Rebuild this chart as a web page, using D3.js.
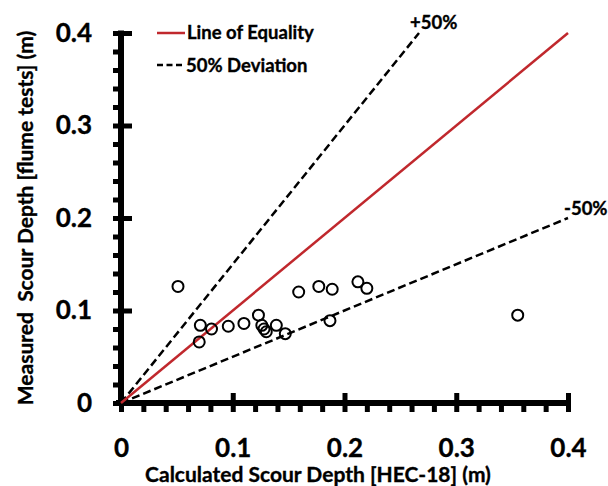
<!DOCTYPE html>
<html>
<head>
<meta charset="utf-8">
<script src="https://cdn.jsdelivr.net/npm/d3@7"></script>
<style>
  body { margin: 0; background: #fff; }
  text { font-family: Lato, "Open Sans", sans-serif; font-weight: bold; fill: #000; stroke: #000; stroke-width: 0.35px; }
</style>
</head>
<body>
<svg id="chart" width="608" height="486"></svg>
<script>
// calculated (HEC-18) vs measured (flume tests) scour depth, metres
var calcDepth = [0.051, 0.071, 0.081, 0.070, 0.096, 0.110, 0.123, 0.126, 0.128, 0.130,
                 0.139, 0.147, 0.159, 0.177, 0.189, 0.212, 0.220, 0.187, 0.355];
var measDepth = [0.126, 0.084, 0.080, 0.066, 0.083, 0.086, 0.095, 0.084, 0.080, 0.077,
                 0.084, 0.075, 0.120, 0.126, 0.123, 0.131, 0.124, 0.089, 0.095];

var majorTicks = [0, 0.1, 0.2, 0.3, 0.4];
var tickLabels = ["0", "0.1", "0.2", "0.3", "0.4"];
var minorTicks = [0.02, 0.04, 0.06, 0.08, 0.12, 0.14, 0.16, 0.18,
                  0.22, 0.24, 0.26, 0.28, 0.32, 0.34, 0.36, 0.38];

var equalityLine = [[0, 0], [0.4, 0.4]];
var plusLine = [[0, 0], [0.4 / 1.5, 0.4]];
var minusLine = [[0, 0], [0.4, 0.2]];

var svg = d3.select("#chart");

var x = d3.scaleLinear().domain([0, 0.4]).range([121, 568]);
var y = d3.scaleLinear().domain([0, 0.4]).range([403, 33]);

// minor ticks first (outside only)
svg.append("g")
  .attr("transform", "translate(0,403)")
  .call(d3.axisBottom(x).tickValues(minorTicks).tickSize(9).tickFormat(""))
  .call(g => g.select(".domain").remove())
  .selectAll("line").attr("stroke", "#000").attr("stroke-width", 5);

svg.append("g")
  .attr("transform", "translate(121,0)")
  .call(d3.axisLeft(y).tickValues(minorTicks).tickSize(8).tickFormat(""))
  .call(g => g.select(".domain").remove())
  .selectAll("line").attr("stroke", "#000").attr("stroke-width", 5);

// x axis
var xAxis = svg.append("g")
  .attr("transform", "translate(0,403)")
  .call(d3.axisBottom(x).tickValues(majorTicks).tickSize(9)
    .tickFormat((d, i) => tickLabels[i]).tickPadding(27));
xAxis.select(".domain").remove();
xAxis.selectAll(".tick line").attr("y1", -10).attr("y2", 9)
  .attr("stroke", "#000").attr("stroke-width", 5);
xAxis.selectAll(".tick text").attr("font-size", 26).style("font-family", null);
xAxis.append("line").attr("x1", 116).attr("x2", 570.5).attr("y1", 0).attr("y2", 0)
  .attr("stroke", "#000").attr("stroke-width", 6);

// y axis
var yAxis = svg.append("g")
  .attr("transform", "translate(121,0)")
  .call(d3.axisLeft(y).tickValues(majorTicks).tickSize(8)
    .tickFormat((d, i) => tickLabels[i]).tickPadding(21));
yAxis.select(".domain").remove();
yAxis.selectAll(".tick line").attr("x1", -8).attr("x2", 11)
  .attr("stroke", "#000").attr("stroke-width", 5);
yAxis.selectAll(".tick text").attr("font-size", 26).style("font-family", null);
yAxis.append("line").attr("x1", 0).attr("x2", 0).attr("y1", 406).attr("y2", 30.5)
  .attr("stroke", "#000").attr("stroke-width", 6);

// reference lines
var line = d3.line().x(d => x(d[0])).y(d => y(d[1]));

svg.append("path").datum(plusLine).attr("d", line)
  .attr("fill", "none").attr("stroke", "#000").attr("stroke-width", 2.5)
  .attr("stroke-dasharray", "8,4");
svg.append("path").datum(minusLine).attr("d", line)
  .attr("fill", "none").attr("stroke", "#000").attr("stroke-width", 2.5)
  .attr("stroke-dasharray", "8,4");
svg.append("path").datum(equalityLine).attr("d", line)
  .attr("fill", "none").attr("stroke", "#c0282d").attr("stroke-width", 2.5);

// points
svg.selectAll(".pt").data(calcDepth).enter().append("circle")
  .attr("class", "pt")
  .attr("cx", d => x(d))
  .attr("cy", (d, i) => y(measDepth[i]))
  .attr("r", 5.5)
  .attr("fill", "none")
  .attr("stroke", "#000")
  .attr("stroke-width", 2);

// line labels
svg.append("text").attr("x", 410).attr("y", 29).attr("font-size", 18.5).text("+50%");
svg.append("text").attr("x", 564).attr("y", 215).attr("font-size", 18.5).text("-50%");

// legend
svg.append("line").attr("x1", 157).attr("x2", 185).attr("y1", 33).attr("y2", 33)
  .attr("stroke", "#c0282d").attr("stroke-width", 2.5);
svg.append("text").attr("x", 187).attr("y", 39).attr("font-size", 18.5).text("Line of Equality");
svg.append("line").attr("x1", 157).attr("x2", 185).attr("y1", 65).attr("y2", 65)
  .attr("stroke", "#000").attr("stroke-width", 2.5).attr("stroke-dasharray", "6,3.5");
svg.append("text").attr("x", 186).attr("y", 72).attr("font-size", 18.5).text("50% Deviation");

// axis titles
svg.append("text")
  .attr("x", 318).attr("y", 482)
  .attr("text-anchor", "middle")
  .attr("font-size", 21)
  .text("Calculated Scour Depth [HEC-18] (m)");

svg.append("text")
  .attr("transform", "translate(33,218) rotate(-90)")
  .attr("text-anchor", "middle")
  .attr("font-size", 21)
  .style("white-space", "pre")
  .text("Measured  Scour Depth [flume tests] (m)");
</script>
</body>
</html>
